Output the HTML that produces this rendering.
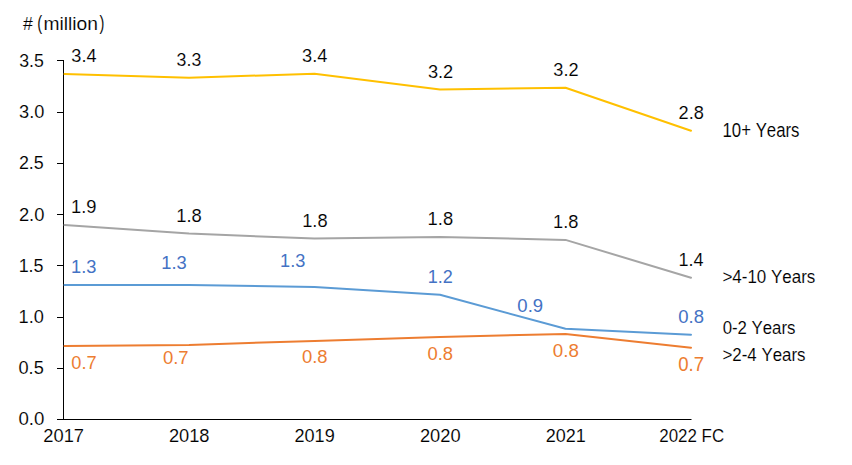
<!DOCTYPE html>
<html><head><meta charset="utf-8"><style>
html,body{margin:0;padding:0;background:#fff;width:852px;height:465px;overflow:hidden}
svg{display:block}
text{font-family:"Liberation Sans",sans-serif;font-kerning:none}
text.k{stroke:#fff;stroke-width:0.12px}
</style></head><body>
<svg width="852" height="465" viewBox="0 0 852 465">
<rect x="0" y="0" width="852" height="465" fill="#fff"/>
<path d="M63.5 60 V419.5 M57 419.5 H691.5" stroke="#000" stroke-width="1" fill="none"/>
<path d="M57 60.5 H63.5 M57 112.5 H63.5 M57 163.5 H63.5 M57 214.5 H63.5 M57 265.5 H63.5 M57 317.5 H63.5 M57 368.5 H63.5 M57 419.5 H63.5 " stroke="#000" stroke-width="1" fill="none"/>
<polyline points="64.5,345.89 189.0,344.90 314.5,340.90 440.0,336.90 565.5,333.90 691.0,347.70" stroke="#ED7D31" stroke-width="2" fill="none" stroke-linejoin="round" stroke-linecap="round"/>
<polyline points="64.5,284.90 189.0,284.90 314.5,287.00 440.0,294.80 565.5,328.80 691.0,334.70" stroke="#5B9BD5" stroke-width="2" fill="none" stroke-linejoin="round" stroke-linecap="round"/>
<polyline points="64.5,224.97 189.0,233.60 314.5,238.50 440.0,237.00 565.5,239.90 691.0,277.70" stroke="#A5A5A5" stroke-width="2" fill="none" stroke-linejoin="round" stroke-linecap="round"/>
<polyline points="64.5,74.03 189.0,77.70 314.5,73.70 440.0,89.50 565.5,87.70 691.0,130.80" stroke="#FFC000" stroke-width="2" fill="none" stroke-linejoin="round" stroke-linecap="round"/>
<text class="k" transform="translate(71.31,62.00) scale(0.9745,1)" font-size="18.62" fill="#000000">3.4</text>
<text class="k" transform="translate(176.62,66.10) scale(0.9600,1)" font-size="18.47" fill="#000000">3.3</text>
<text class="k" transform="translate(302.01,62.00) scale(0.9786,1)" font-size="18.62" fill="#000000">3.4</text>
<text class="k" transform="translate(427.91,78.00) scale(0.9704,1)" font-size="18.76" fill="#000000">3.2</text>
<text class="k" transform="translate(553.31,76.10) scale(0.9854,1)" font-size="18.47" fill="#000000">3.2</text>
<text class="k" transform="translate(678.58,118.90) scale(0.9703,1)" font-size="18.76" fill="#000000">2.8</text>
<text class="k" transform="translate(71.10,213.10) scale(0.9914,1)" font-size="18.47" fill="#000000">1.9</text>
<text class="k" transform="translate(176.30,221.90) scale(0.9926,1)" font-size="18.47" fill="#000000">1.8</text>
<text class="k" transform="translate(302.21,226.90) scale(0.9884,1)" font-size="18.47" fill="#000000">1.8</text>
<text class="k" transform="translate(427.60,225.00) scale(0.9850,1)" font-size="18.62" fill="#000000">1.8</text>
<text class="k" transform="translate(553.11,228.10) scale(0.9884,1)" font-size="18.47" fill="#000000">1.8</text>
<text class="k" transform="translate(678.52,266.10) scale(0.9631,1)" font-size="18.75" fill="#000000">1.4</text>
<text transform="translate(71.11,273.20) scale(0.9590,1)" font-size="19.05" fill="#4472C4">1.3</text>
<text transform="translate(161.30,268.90) scale(0.9632,1)" font-size="19.05" fill="#4472C4">1.3</text>
<text transform="translate(280.11,267.00) scale(0.9845,1)" font-size="18.47" fill="#4472C4">1.3</text>
<text transform="translate(427.63,283.10) scale(0.9544,1)" font-size="18.90" fill="#4472C4">1.2</text>
<text transform="translate(517.37,312.00) scale(1.0047,1)" font-size="18.47" fill="#4472C4">0.9</text>
<text transform="translate(678.28,323.10) scale(1.0017,1)" font-size="18.47" fill="#4472C4">0.8</text>
<text transform="translate(71.29,369.10) scale(0.9565,1)" font-size="19.05" fill="#ED7D31">0.7</text>
<text transform="translate(162.88,364.00) scale(0.9951,1)" font-size="18.62" fill="#ED7D31">0.7</text>
<text transform="translate(301.98,363.10) scale(0.9976,1)" font-size="18.47" fill="#ED7D31">0.8</text>
<text transform="translate(427.48,360.10) scale(0.9976,1)" font-size="18.47" fill="#ED7D31">0.8</text>
<text transform="translate(552.87,356.80) scale(1.0550,1)" font-size="17.76" fill="#ED7D31">0.8</text>
<text transform="translate(678.27,371.20) scale(0.9622,1)" font-size="19.33" fill="#ED7D31">0.7</text>
<text class="k" transform="translate(722.52,137.30) scale(0.8682,1)" font-size="19.33" fill="#000000">10+ Years</text>
<text class="k" transform="translate(722.46,283.20) scale(0.9188,1)" font-size="18.47" fill="#000000">&gt;4-10 Years</text>
<text class="k" transform="translate(722.64,334.00) scale(0.8958,1)" font-size="18.76" fill="#000000">0-2 Years</text>
<text class="k" transform="translate(722.47,360.80) scale(0.9137,1)" font-size="18.47" fill="#000000">&gt;2-4 Years</text>
<text class="k" transform="translate(22.92,29.90) scale(0.9285,1)" font-size="19.00" fill="#000000">#</text>
<text class="k" transform="translate(43.42,29.90) scale(1.0030,1)" font-size="19.18" fill="#000000">million</text>
<text class="k" transform="translate(37.19,29.78) scale(0.7571,1)" font-size="19.43" fill="#000000">(</text>
<text class="k" transform="translate(99.41,29.78) scale(0.7571,1)" font-size="19.43" fill="#000000">)</text>
<text class="k" transform="translate(19.13,66.80) scale(0.9585,1)" font-size="18.47" fill="#000000">3.5</text>
<text class="k" transform="translate(19.11,117.90) scale(0.9702,1)" font-size="18.76" fill="#000000">3.0</text>
<text class="k" transform="translate(18.90,168.90) scale(0.9528,1)" font-size="18.76" fill="#000000">2.5</text>
<text class="k" transform="translate(18.88,220.80) scale(0.9945,1)" font-size="18.47" fill="#000000">2.0</text>
<text class="k" transform="translate(18.63,271.80) scale(0.9560,1)" font-size="18.75" fill="#000000">1.5</text>
<text class="k" transform="translate(18.61,322.90) scale(0.9699,1)" font-size="18.76" fill="#000000">1.0</text>
<text class="k" transform="translate(18.49,373.90) scale(0.9690,1)" font-size="18.76" fill="#000000">0.5</text>
<text class="k" transform="translate(18.47,424.90) scale(0.9953,1)" font-size="18.76" fill="#000000">0.0</text>
<text class="k" transform="translate(43.28,441.90) scale(0.9762,1)" font-size="18.76" fill="#000000">2017</text>
<text class="k" transform="translate(168.88,441.90) scale(0.9730,1)" font-size="18.76" fill="#000000">2018</text>
<text class="k" transform="translate(294.49,441.90) scale(0.9648,1)" font-size="18.76" fill="#000000">2019</text>
<text class="k" transform="translate(419.88,441.90) scale(0.9760,1)" font-size="18.76" fill="#000000">2020</text>
<text class="k" transform="translate(545.69,441.90) scale(0.9605,1)" font-size="18.76" fill="#000000">2021</text>
<text class="k" transform="translate(659.25,441.90) scale(0.9018,1)" font-size="18.76" fill="#000000">2022 FC</text>
</svg>
</body></html>
